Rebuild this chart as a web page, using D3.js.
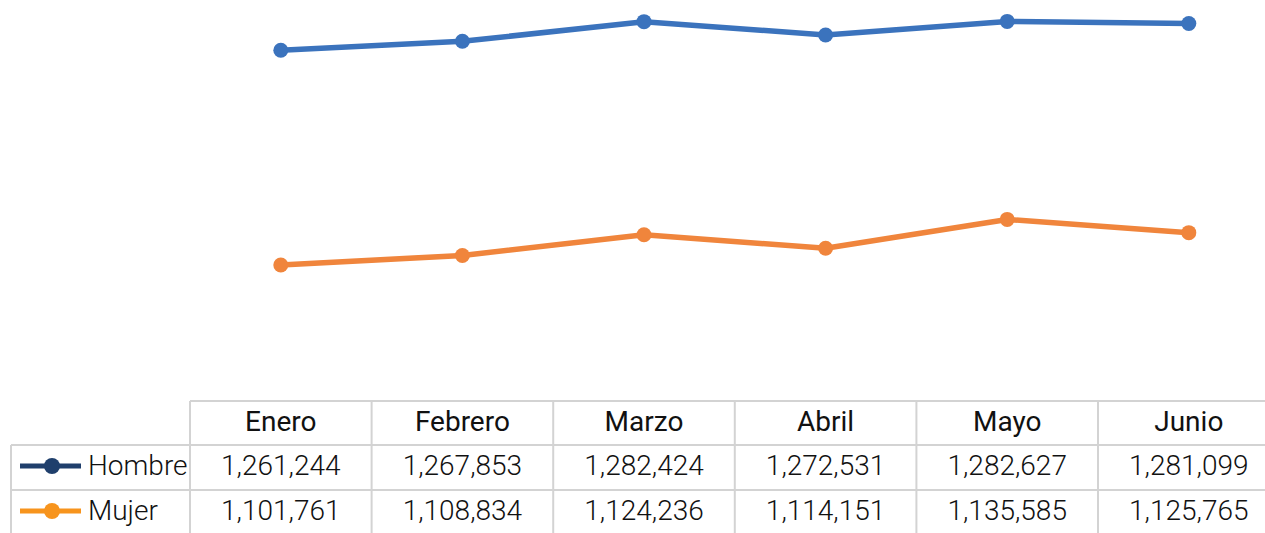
<!DOCTYPE html>
<html>
<head>
<meta charset="utf-8">
<script src="https://cdn.jsdelivr.net/npm/d3@7"></script>
<style>
  html, body { margin: 0; padding: 0; background: #fff; }
  svg text { font-family: Roboto, "Noto Sans", sans-serif; font-weight: 300; fill: #111; }
</style>
</head>
<body>
<div id="chart"></div>
<script>
var months = ["Enero", "Febrero", "Marzo", "Abril", "Mayo", "Junio"];
var seriesNames = ["Hombre", "Mujer"];
var hombre = [1261244, 1267853, 1282424, 1272531, 1282627, 1281099];
var mujer = [1101761, 1108834, 1124236, 1114151, 1135585, 1125765];
var lineColors = ["#3b73bd", "#f0853c"];
var keyColors = ["#1f3f6c", "#f7941d"];

var width = 1265, height = 533;
var tableLeft = 190, colW = 181.6;
var legendLeft = 11;
var headerTop = 401, rowH = 44;
var fontSize = 28;

var svg = d3.select("#chart").append("svg")
  .attr("width", width)
  .attr("height", height);

var x = d3.scaleBand()
  .domain(months)
  .range([tableLeft, tableLeft + colW * months.length]);

var y = d3.scaleLinear()
  .domain([1000000, 1300000])
  .range([402, -2]);

var fmt = d3.format(",");
var data = [hombre, mujer];

// grid of the data table
var grid = svg.append("g").attr("stroke", "#d3d3d3").attr("stroke-width", 2).attr("fill", "none");
var rightEdge = tableLeft + colW * months.length;
grid.append("line").attr("x1", tableLeft).attr("x2", rightEdge).attr("y1", headerTop).attr("y2", headerTop);
for (var r = 1; r <= 3; r++) {
  grid.append("line")
    .attr("x1", legendLeft).attr("x2", rightEdge)
    .attr("y1", headerTop + rowH * r + (r > 1 ? 1 : 0)).attr("y2", headerTop + rowH * r + (r > 1 ? 1 : 0));
}
grid.append("line").attr("x1", legendLeft).attr("x2", legendLeft).attr("y1", headerTop + rowH).attr("y2", height + 5);
months.forEach(function(m, i) {
  var xx = x(m);
  grid.append("line").attr("x1", xx).attr("x2", xx).attr("y1", headerTop).attr("y2", height + 5);
});

// header labels
svg.selectAll(".hdr").data(months).enter()
  .append("text")
  .attr("class", "hdr")
  .attr("x", d => x(d) + x.bandwidth() / 2)
  .attr("y", headerTop + rowH / 2 + 8)
  .attr("text-anchor", "middle")
  .style("font-size", fontSize + "px")
  .style("font-weight", 400)
  .text(d => d);

// rows
data.forEach(function(vals, si) {
  var rowTop = headerTop + rowH * (si + 1) + si;
  var cy = rowTop + rowH / 2;
  var key = svg.append("g");
  key.append("line")
    .attr("x1", 20).attr("x2", 81)
    .attr("y1", cy - 1).attr("y2", cy - 1)
    .attr("stroke", keyColors[si]).attr("stroke-width", 5);
  key.append("circle")
    .attr("cx", 52).attr("cy", cy - 1).attr("r", 8)
    .attr("fill", keyColors[si]);
  svg.append("text")
    .attr("x", 88).attr("y", cy + 8)
    .style("font-size", fontSize + "px")
    .text(seriesNames[si]);

  svg.selectAll(".val" + si).data(vals).enter()
    .append("text")
    .attr("class", "val" + si)
    .attr("x", (d, i) => x(months[i]) + x.bandwidth() / 2)
    .attr("y", cy + 8)
    .attr("text-anchor", "middle")
    .style("font-size", fontSize + "px")
    .text(d => fmt(d));
});

// lines
var line = d3.line()
  .x((d, i) => x(months[i]) + x.bandwidth() / 2)
  .y(d => y(d));

data.forEach(function(vals, si) {
  svg.append("path")
    .datum(vals)
    .attr("d", line)
    .attr("fill", "none")
    .attr("stroke", lineColors[si])
    .attr("stroke-width", 5.5)
    .attr("stroke-linejoin", "round");
  svg.selectAll(".pt" + si).data(vals).enter()
    .append("circle")
    .attr("class", "pt" + si)
    .attr("cx", (d, i) => x(months[i]) + x.bandwidth() / 2)
    .attr("cy", d => y(d))
    .attr("r", 7.5)
    .attr("fill", lineColors[si]);
});
</script>
</body>
</html>
